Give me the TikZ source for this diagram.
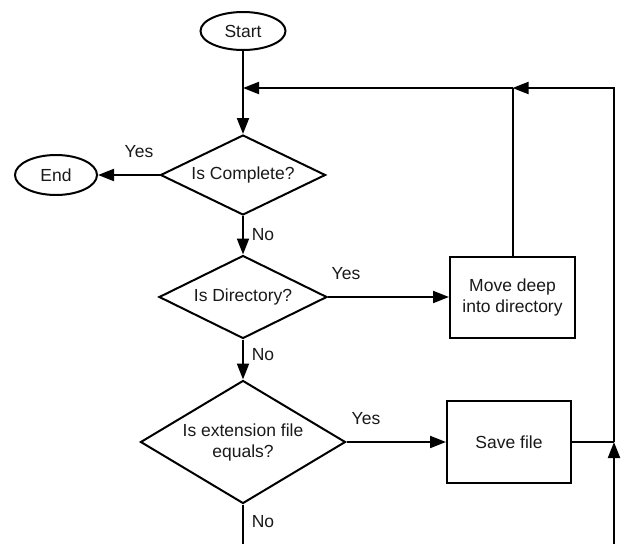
\documentclass[tikz,border=0pt]{standalone}
\usepackage{fontspec}
\setmainfont{Liberation Sans}
\usetikzlibrary{shapes.geometric,arrows.meta}
\begin{document}
\begin{tikzpicture}[x=1pt,y=-1pt,
  every node/.style={font=\fontsize{17.5}{21}\selectfont, text=black!90},
  term/.style={draw, ellipse, line width=2pt, inner sep=0pt, minimum width=85pt, minimum height=38pt},
  decision/.style={draw, diamond, line width=2pt, inner sep=0pt, aspect=2, align=center},
  proc/.style={draw, rectangle, line width=2pt, inner sep=0pt, align=center, minimum width=125pt, minimum height=81pt},
  flow/.style={line width=2pt, -{Triangle[length=16pt,width=12pt]}},
  plain/.style={line width=2pt},
  lbl/.style={inner sep=0pt}
]
\useasboundingbox (0,0) rectangle (627,544);
% nodes
\node[term] (start) at (243,31) {Start};
\node[term, minimum width=82pt, minimum height=40pt] (end) at (56,175) {End};
\node[decision, minimum width=165pt, minimum height=80pt] (ic) at (243,175) {Is Complete?};
\node[decision, minimum width=168pt, minimum height=83pt] (id) at (243,297) {Is Directory?};
\node[decision, aspect=1.67, minimum width=205pt, minimum height=123pt] (ie) at (243,442) {Is extension file\\equals?};
\node[proc] (move) at (512.5,297) {Move deep\\into directory};
\node[proc, minimum width=124pt, minimum height=82pt] (save) at (509,442) {Save file};
% labels
\node[lbl] (y1) at (139,152) {Yes};
\node[lbl] (n1) at (263,235) {No};
\node[lbl] (y2) at (346,274) {Yes};
\node[lbl] (n2) at (263,355) {No};
\node[lbl] (y3) at (366,419) {Yes};
\node[lbl] (n3) at (263,522) {No};
% coordinates
\coordinate (j1) at (243,88);
\coordinate (j2) at (512.5,88);
\coordinate (rt) at (614,88);
\coordinate (j3) at (614,442);
\coordinate (rb) at (614,544);
\coordinate (ieb) at (243,544);
% connectors
\draw[flow] (start) -- (ic);
\draw[flow] (ic) -- (end);
\draw[flow] (ic) -- (id);
\draw[flow] (id) -- (ie);
\draw[flow] (id) -- (move);
\draw[flow] (ie) -- (save);
\draw[plain] (ie) -- (ieb);
\draw[plain] (move) -- (j2);
\draw[flow] (j2) -- (j1);
\draw[flow] (rb) -- (j3);
\draw[plain] (save) -- (j3);
\draw[flow, line join=miter] (j3) -- (rt) -- (j2);
\end{tikzpicture}
\end{document}
